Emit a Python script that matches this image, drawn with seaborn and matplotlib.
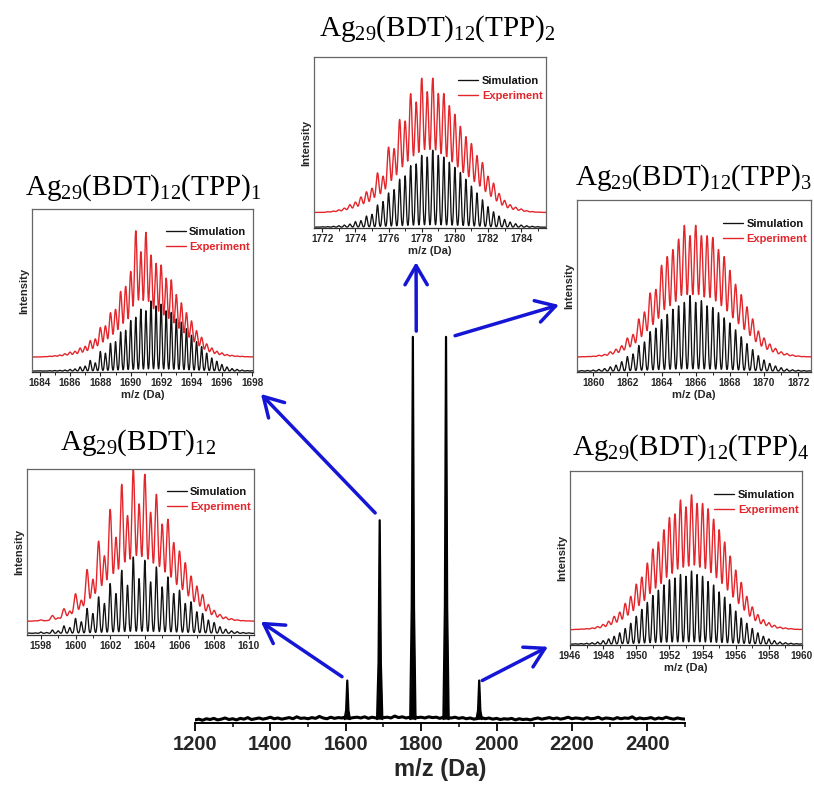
import numpy as np
import pandas as pd
import matplotlib
matplotlib.use("Agg")
import matplotlib.pyplot as plt
from matplotlib.ticker import MultipleLocator
import seaborn as sns

# ---------------- overview spectrum ----------------
overview_start = 1200          # m/z of first baseline sample
overview_step = 10             # m/z between baseline samples
baseline_noise = [
    0.8, 1.0, 0.7, 1.1, 0.9, 1.2, 0.8, 1.0, 1.3, 0.9,
    1.1, 0.8, 1.2, 1.0, 1.4, 0.9, 1.1, 1.3, 1.0, 1.2,
    1.5, 1.1, 1.3, 1.0, 1.2, 1.4, 1.1, 1.6, 1.2, 1.3,
    1.1, 1.4, 1.2, 1.7, 1.3, 1.1, 1.5, 1.2, 1.4, 1.3,
    1.6, 1.2, 1.4, 1.5, 1.3, 1.6, 1.2, 1.5, 1.3, 1.7,
    1.4, 1.5, 1.3, 1.8, 1.4, 1.6, 1.3, 1.5, 1.7, 1.4,
    1.5, 1.3, 1.6, 1.4, 1.5, 1.2, 1.6, 1.4, 1.3, 1.5,
    1.2, 1.4, 1.1, 1.3, 1.0, 1.2, 1.4, 1.1, 1.3, 1.0,
    1.2, 0.9, 1.1, 1.0, 1.2, 0.8, 1.1, 0.9, 1.0, 0.8,
    1.1, 1.3, 1.0, 1.2, 1.4, 1.1, 1.3, 1.0, 1.2, 1.5,
    1.1, 1.3, 1.2, 1.0, 1.4, 1.1, 1.2, 1.5, 1.0, 1.3,
    1.2, 1.0, 1.4, 1.1, 1.3, 1.2, 1.6, 1.0, 1.3, 1.1,
    1.2, 1.4, 1.0, 1.3, 1.1, 1.5, 1.2, 1.0, 1.3, 1.1,
    1.0,
]
cluster_mz = [1604, 1690, 1778, 1866, 1954]
cluster_height = [11, 52.5, 100, 100, 11]
cluster_labels = [
    r"Ag$_{29}$(BDT)$_{12}$",
    r"Ag$_{29}$(BDT)$_{12}$(TPP)$_{1}$",
    r"Ag$_{29}$(BDT)$_{12}$(TPP)$_{2}$",
    r"Ag$_{29}$(BDT)$_{12}$(TPP)$_{3}$",
    r"Ag$_{29}$(BDT)$_{12}$(TPP)$_{4}$",
]

# ---------------- isotope patterns (3- ions, 1/3 m/z spacing) ----------------
ISO_STEP = 1 / 3

bdt12_start = 1597 + 1 / 3
bdt12_exp = [0, 0.3, 0.8, 0.4, 3.4, 2, 7.5, 6, 16.5, 12.5,
             31, 25, 48, 39, 67, 50, 82, 63, 91, 70,
             88, 65, 76, 58, 61, 47, 42, 35, 27, 21,
             16, 10, 6.5, 4, 2.5, 1.5, 0.8, 0.4, 0.2]
bdt12_sim = [0.2, 0.3, 0.8, 0.5, 2, 1.5, 4.5, 3.5, 9, 7,
             15, 12, 22, 18, 30, 24, 38, 29, 46, 33,
             44, 31, 40, 28, 34, 24, 26, 18, 19, 13,
             12, 8, 6.5, 4, 2.5, 1.5, 1, 0.5, 0.3]

tpp1_start = 1684.0
tpp1_exp = [0, 0.3, 0.5, 0.8, 1.2, 2, 3, 3.5, 5.5, 6.5,
            10, 11, 18, 19, 27, 29, 40, 43, 52, 77,
            64, 76, 62, 57, 56, 48, 47, 38, 33, 27,
            22, 16, 12, 8, 5.5, 3.5, 2.5, 1.5, 1, 0.6,
            0.4, 0.2, 0.1]
tpp1_sim = [0.1, 0.1, 0.2, 0.3, 0.4, 0.6, 1, 1.3, 2.5, 3,
            6.5, 5, 12, 11, 17, 18, 24, 25, 31, 33,
            38, 37, 43, 40, 41, 37, 36, 32, 30, 26,
            22, 18, 15, 11, 8, 6, 4, 2.5, 1.5, 1,
            0.6, 0.3, 0.2]

tpp2_start = 1772.0
tpp2_exp = [0, 0.4, 0.8, 1.5, 2.5, 4.5, 6, 9, 12, 14,
            23, 21, 38, 37, 54, 53, 69, 64, 78, 70,
            78, 69, 69, 62, 57, 50, 44, 40, 33, 29,
            21, 17, 11, 7, 4.5, 3, 2, 1, 0.5, 0.2]
tpp2_sim = [0.2, 0.3, 0.5, 0.8, 1.2, 1.8, 3.2, 3.8, 6.5, 7.5,
            13, 15, 20, 22, 28, 30, 36, 37, 42, 41,
            45, 42, 41, 38, 35, 32, 28, 24, 20, 16,
            12, 9, 6.5, 4.5, 3, 2, 1.2, 0.8, 0.5, 0.3]

tpp3_start = 1859.0
tpp3_exp = [0, 0.2, 0.3, 0.5, 1, 1.5, 3, 4.5, 6.5, 11,
            13, 22, 26, 37, 39, 53, 58, 62, 68, 76,
            70, 76, 70, 70, 69, 62, 58, 50, 42, 36,
            29, 22, 15, 11, 7.5, 5, 3, 2, 1.2, 0.6,
            0.3, 0.2]
tpp3_sim = [0.2, 0.3, 0.4, 0.6, 1, 1.5, 2.5, 3.5, 5.5, 8.5,
            10, 15, 17, 23, 25, 30, 33, 36, 38, 40,
            44, 40, 41, 38, 37, 34, 31, 28, 24, 20,
            16, 12.5, 9, 6.5, 4.5, 3, 2, 1.2, 0.8, 0.5,
            0.3, 0.2]

tpp4_start = 1946.0
tpp4_exp = [0, 0.2, 0.4, 0.6, 1, 1.8, 3, 4.8, 7.6, 10,
            15, 19, 26, 30, 38, 46, 50, 57, 64, 66,
            74, 70, 77, 72, 72, 69, 63, 57, 50, 42,
            34, 27, 19, 13, 8.6, 5.7, 4, 2.5, 1.5, 1,
            0.6, 0.3, 0.2]
tpp4_sim = [0.1, 0.2, 0.3, 0.5, 0.8, 1.2, 2, 3, 4.5, 6.5,
            9, 12, 16, 20, 24, 28, 31, 34, 37, 38,
            40, 39, 42, 40, 39, 36, 34, 30, 27, 23,
            19, 15, 12, 9, 6.5, 4.5, 3, 2, 1.2, 0.8,
            0.5, 0.3, 0.2]

# ---------------- style ----------------
sns.set_theme(style="white")
plt.rcParams["font.family"] = ["Liberation Sans", "DejaVu Sans"]
plt.rcParams["mathtext.fontset"] = "custom"
plt.rcParams["mathtext.rm"] = "Liberation Serif"
plt.rcParams["mathtext.it"] = "Liberation Serif:italic"
plt.rcParams["mathtext.bf"] = "Liberation Serif:bold"

RED = "#e3262b"
BLUE = "#1515d6"
FRAME = "#666666"
W, H = 814, 785


def rect(x0, y0, x1, y1):
    """Figure-fraction rectangle from pixel box (top-left origin)."""
    return [x0 / W, 1 - y1 / H, (x1 - x0) / W, (y1 - y0) / H]


def isotope_profile(grid, start, heights, sigma):
    centers = start + np.arange(len(heights)) * ISO_STEP
    h = np.asarray(heights, dtype=float)
    return (h[:, None] * np.exp(-0.5 * ((grid[None, :] - centers[:, None]) / sigma) ** 2)).sum(axis=0)


fig = plt.figure(figsize=(W / 100, H / 100), dpi=100)

# ---------------- overview axis ----------------
ax = fig.add_axes(rect(195, 333, 685, 723))
ax.set_facecolor("none")

base_mz = overview_start + overview_step * np.arange(len(baseline_noise))
base_df = pd.DataFrame({"mz": base_mz, "intensity": baseline_noise})
sns.lineplot(data=base_df, x="mz", y="intensity", color="black", lw=2.2,
             estimator=None, sort=True, ax=ax)
for c, h in zip(cluster_mz, cluster_height):
    peak = pd.DataFrame({"mz": [c - 7, c - 3, c, c + 3, c + 7],
                         "intensity": [1.0, 0.3 * h, h, 0.3 * h, 1.0]})
    sns.lineplot(data=peak, x="mz", y="intensity", color="black", lw=1.6,
                 estimator=None, sort=True, ax=ax)
    ax.fill_between(peak["mz"], 1.0, peak["intensity"], color="black", lw=0)

ax.set_xlim(1200, 2500)
ax.set_ylim(0, 101)
ax.set_yticks([])
ax.set_ylabel("")
for s in ("left", "right", "top"):
    ax.spines[s].set_visible(False)
ax.spines["bottom"].set_color("black")
ax.spines["bottom"].set_linewidth(1.4)
ax.xaxis.set_major_locator(MultipleLocator(200))
ax.xaxis.set_minor_locator(MultipleLocator(100))
ax.tick_params(axis="x", which="major", direction="out", length=5.5, width=1.3,
               color="black", labelsize=14.5, pad=3, bottom=True)
ax.tick_params(axis="x", which="minor", direction="out", length=3, width=1.1,
               color="black", bottom=True)
for t in ax.get_xticklabels():
    t.set_fontweight("bold")
ax.set_xlabel("m/z (Da)", fontsize=17, fontweight="bold", labelpad=3)

# ---------------- insets ----------------
panels = [
    dict(box=(27, 469, 254, 635), xlim=(1597.2, 1610.3), ticks=(1598, 1610),
         start=bdt12_start, exp=bdt12_exp, sim=bdt12_sim, red0=8.3, blk0=1.0,
         title=(138, 450), xlabel=False),
    dict(box=(32, 209, 253, 372), xlim=(1683.5, 1698.05), ticks=(1684, 1698),
         start=tpp1_start, exp=tpp1_exp, sim=tpp1_sim, red0=9.2, blk0=0.6,
         title=(143, 195), xlabel=True),
    dict(box=(314, 57, 546, 228), xlim=(1771.5, 1785.5), ticks=(1772, 1784),
         start=tpp2_start, exp=tpp2_exp, sim=tpp2_sim, red0=9.1, blk0=0.5,
         title=(437, 36), xlabel=True),
    dict(box=(577, 200, 811, 372), xlim=(1859.05, 1872.75), ticks=(1860, 1872),
         start=tpp3_start, exp=tpp3_exp, sim=tpp3_sim, red0=8.7, blk0=0.5,
         title=(694, 185), xlabel=True),
    dict(box=(570, 471, 802, 645), xlim=(1946, 1960), ticks=(1946, 1960),
         start=tpp4_start, exp=tpp4_exp, sim=tpp4_sim, red0=8.8, blk0=0.5,
         title=(691, 455), xlabel=True),
]

inset_axes = []
for p, label in zip(panels, cluster_labels):
    ia = fig.add_axes(rect(*p["box"]))
    ia.set_facecolor("white")
    grid = np.linspace(p["xlim"][0], p["xlim"][1], 3000)
    df = pd.DataFrame({
        "mz": grid,
        "Simulation": p["blk0"] + isotope_profile(grid, p["start"], p["sim"], 0.058),
        "Experiment": p["red0"] + isotope_profile(grid, p["start"], p["exp"], 0.1),
    })
    sns.lineplot(data=df, x="mz", y="Simulation", color="#111111", lw=0.95,
                 estimator=None, label="Simulation", ax=ia)
    sns.lineplot(data=df, x="mz", y="Experiment", color=RED, lw=1.0,
                 estimator=None, label="Experiment", ax=ia)
    ia.set_xlim(*p["xlim"])
    ia.set_ylim(0, 100)
    ia.set_yticks([])
    ia.set_xticks(np.arange(p["ticks"][0], p["ticks"][1] + 1, 2))
    ia.xaxis.set_minor_locator(MultipleLocator(1))
    ia.tick_params(axis="x", which="major", direction="out", length=3, width=0.8,
                   color="#222222", labelsize=7.2, pad=1.5, bottom=True)
    ia.tick_params(axis="x", which="minor", direction="out", length=1.8, width=0.7,
                   color="#222222", bottom=True)
    for t in ia.get_xticklabels():
        t.set_fontweight("bold")
    for s in ia.spines.values():
        s.set_color(FRAME)
        s.set_linewidth(0.9)
    ia.spines["bottom"].set_color("#333333")
    ia.set_ylabel("Intensity", fontsize=8, fontweight="bold", labelpad=2)
    if p["xlabel"]:
        ia.set_xlabel("m/z (Da)", fontsize=8, fontweight="bold", labelpad=1)
    else:
        ia.set_xlabel("")
    leg = ia.legend(loc="upper right", bbox_to_anchor=(0.985, 0.89), frameon=False,
                    prop={"size": 8, "weight": "bold"}, handlelength=1.8,
                    handletextpad=0.3, labelspacing=0.45, borderaxespad=0, borderpad=0)
    for txt, col in zip(leg.get_texts(), ["#111111", RED]):
        txt.set_color(col)
    tx, ty = p["title"]
    fig.text(tx / W, 1 - ty / H, label, ha="center", va="baseline",
             fontsize=21, family="Liberation Serif", color="black")
    inset_axes.append(ia)

# ---------------- arrows from each cluster peak to its zoomed pattern ----------------
arrow_tails = [(1590, 12), (1678, 54.4), (1787, 101.5), (1890, 100.3), (1962, 11)]
arrow_heads = [(1.03, 0.08), (1.036, -0.135), (0.44, -0.2), (-0.077, 0.39), (-0.095, -0.01)]
for ia, tail, head in zip(inset_axes, arrow_tails, arrow_heads):
    ax.annotate("", xy=head, xycoords=ia.transAxes, xytext=tail, textcoords="data",
                annotation_clip=False,
                arrowprops=dict(arrowstyle="->,head_length=0.55,head_width=0.32",
                                color=BLUE, lw=2.5, mutation_scale=25,
                                shrinkA=0, shrinkB=0))

fig.savefig("out.png", dpi=100)
